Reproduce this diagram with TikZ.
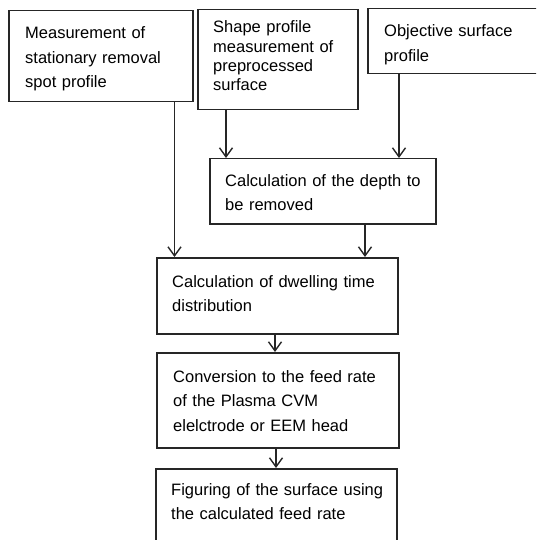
\documentclass[tikz,border=0pt]{standalone}
\usepackage{fontspec}
\setmainfont{Liberation Sans}
\usetikzlibrary{arrows.meta}
\tikzset{
  box/.style={draw=black!85, line width=1.5pt, inner sep=0pt, anchor=north west},
  txt/.style={inner sep=0pt, anchor=base west, text width=#1, align=left,
              font={\fontsize{16.5}{24.5}\selectfont}},
  txtb/.style={inner sep=0pt, anchor=base west, text width=#1, align=left,
              font={\fontsize{16.5}{19.3}\selectfont}},
  arr/.style={draw=black!85, line width=1.4pt, -{Straight Barb[length=9pt,width=13pt]}}
}
\begin{document}
\begin{tikzpicture}[x=1pt,y=-1pt]
\useasboundingbox (0,0) rectangle (536,540);
\clip (0,0) rectangle (536,540);
% boxes
\node[box, minimum width=184pt, minimum height=91pt] (A) at (8,10) {};
\node[box, minimum width=160pt, minimum height=100pt] (B) at (197,9) {};
\node[box, minimum width=180pt, minimum height=65pt] (C) at (367,8) {};
\node[box, minimum width=226pt, minimum height=65pt] (D) at (209,158) {};
\node[box, minimum width=241pt, minimum height=76pt] (E) at (156,257) {};
\node[box, minimum width=242pt, minimum height=95pt] (F) at (156,352) {};
\node[box, minimum width=241pt, minimum height=90pt] (G) at (155,468) {};
% texts
\node[txt=180pt] (tA) at (25,39) {Measurement of\\stationary removal\\spot profile};
\node[txtb=140pt] (tB) at (213,33) {Shape profile\\measurement of\\preprocessed\\surface};
\node[txt=150pt] (tC) at (384,37) {Objective surface\\profile};
\node[txt=210pt] (tD) at (225,186) {Calculation of the depth to\\be removed};
\node[txt=225pt] (tE) at (172,287) {Calculation of dwelling time\\distribution};
\node[txt=225pt] (tF) at (173,382) {Conversion to the feed rate\\of the Plasma CVM\\elelctrode or EEM head};
\node[txt=225pt] (tG) at (171,495) {Figuring of the surface using\\the calculated feed rate};
% connectors
\path (A.south east) ++(-19,0) coordinate (a1);
\draw[arr] (a1) -- (a1 |- E.north);
\path (B.south west) ++(29,0) coordinate (b1);
\draw[arr] (b1) -- (b1 |- D.north);
\path (C.south west) ++(32,0) coordinate (c1);
\draw[arr] (c1) -- (c1 |- D.north);
\path (D.south west) ++(156,0) coordinate (d1);
\draw[arr] (d1) -- (d1 |- E.north);
\path (E.south west) ++(119,0) coordinate (e1);
\draw[arr] (e1) -- (e1 |- F.north);
\path (F.south west) ++(120,0) coordinate (f1);
\draw[arr] (f1) -- (f1 |- G.north);
\end{tikzpicture}
\end{document}
